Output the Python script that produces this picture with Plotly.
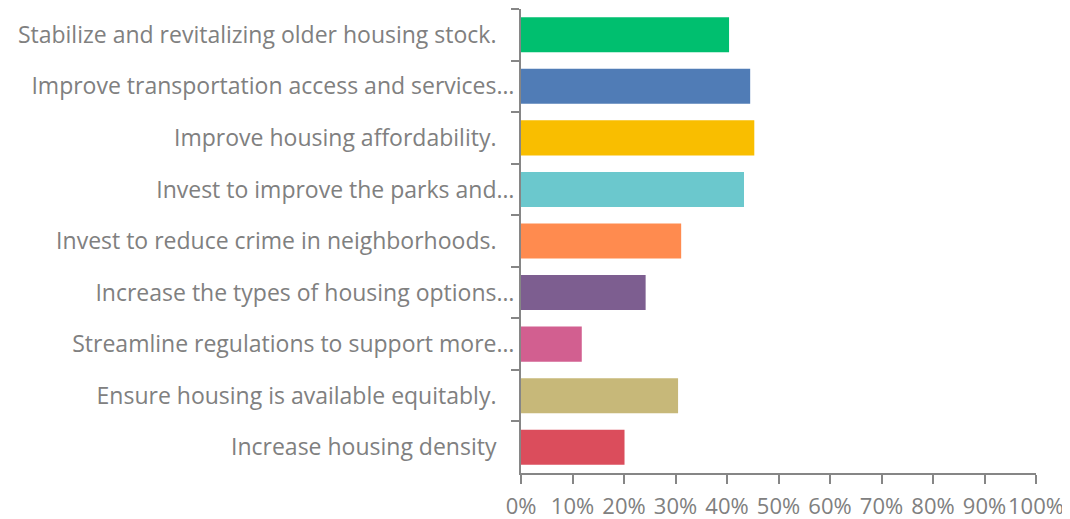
import plotly.graph_objects as go

categories = [
    "Stabilize and revitalizing older housing stock.",
    "Improve transportation access and services…",
    "Improve housing affordability.",
    "Invest to improve the parks and…",
    "Invest to reduce crime in neighborhoods.",
    "Increase the types of housing options…",
    "Streamline regulations to support more…",
    "Ensure housing is available equitably.",
    "Increase housing density",
]
values = [0.404, 0.445, 0.453, 0.433, 0.311, 0.242, 0.118, 0.305, 0.201]
colors = ["#00BF6F", "#507CB6", "#F9BE00", "#6BC8CD", "#FF8B4F",
          "#7D5E90", "#D25F90", "#C7B879", "#DB4D5C"]

# labels without an ellipsis sit a little further from the axis in the original
labels = [c if c.endswith("…") else c + "\u00a0\u00a0\u00a0" for c in categories]

GREY = "#808080"
AXIS = "#868686"
FONT = "Open Sans"
SIZE = 23

fig = go.Figure()
fig.add_trace(go.Bar(
    x=values, y=labels, orientation="h",
    marker=dict(color=colors, line=dict(width=0)),
    hoverinfo="skip",
))

# the page keeps the browser's 8px body margin, so everything sits 8px right/down
fig.update_layout(
    width=1070, height=519,
    margin=dict(l=513, r=42, t=1, b=54, autoexpand=False),
    paper_bgcolor="white", plot_bgcolor="white",
    bargap=0.32,
    showlegend=False,
    font=dict(family=FONT, size=SIZE, color=GREY),
)
fig.update_xaxes(
    range=[0, 1], dtick=0.1, tickformat=".0%", tickangle=0,
    showgrid=False, zeroline=False, automargin=False,
    showline=True, linecolor=AXIS, linewidth=2,
    ticks="outside", ticklen=9, tickwidth=2, tickcolor=AXIS,
    tickfont=dict(family=FONT, size=22, color=GREY),
    ticklabelstandoff=4,
)
fig.update_yaxes(
    autorange="reversed", tickson="boundaries", automargin=False,
    showgrid=False, zeroline=False,
    showline=True, linecolor=AXIS, linewidth=2,
    ticks="outside", ticklen=8, tickwidth=2, tickcolor=AXIS,
    tickfont=dict(family=FONT, size=SIZE, color=GREY),
)

fig.write_html("out.html")
